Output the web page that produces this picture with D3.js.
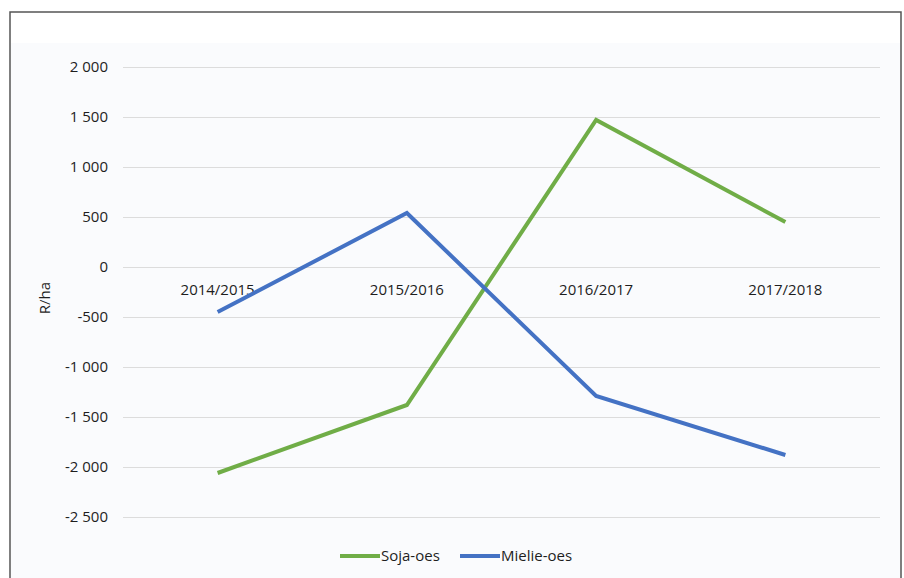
<!DOCTYPE html>
<html>
<head>
<meta charset="utf-8">
<script src="https://cdn.jsdelivr.net/npm/d3@7"></script>
<style>
  body { margin: 0; background: #fff; }
  text { font-family: "Open Sans", "Liberation Sans", sans-serif; fill: #1e1e1e; }
</style>
</head>
<body>
<div id="chart"></div>
<script>
// data
var seasons = ["2014/2015", "2015/2016", "2016/2017", "2017/2018"];
var soja = [-2060, -1380, 1470, 450];
var mielie = [-450, 540, -1290, -1880];
var yTicks = [2000, 1500, 1000, 500, 0, -500, -1000, -1500, -2000, -2500];
var seriesNames = ["Soja-oes", "Mielie-oes"];
var seriesColors = ["#70ad47", "#4472c4"];

var W = 904, H = 578;
var margin = { top: 67, right: 24, bottom: 61, left: 123 },
    width = W - margin.left - margin.right,
    height = H - margin.top - margin.bottom;

var svg = d3.select("#chart")
    .append("svg")
    .attr("width", W)
    .attr("height", H);

// plot background + frame
svg.append("rect")
    .attr("x", 11).attr("y", 43)
    .attr("width", 889).attr("height", H - 43)
    .attr("fill", "#fafbfd");
svg.append("rect")
    .attr("x", 10).attr("y", 12)
    .attr("width", 891).attr("height", H)
    .attr("fill", "none")
    .attr("stroke", "#555")
    .attr("stroke-width", 1.5);

var g = svg.append("g")
    .attr("transform", "translate(" + margin.left + "," + margin.top + ")");

var x = d3.scaleBand().domain(seasons).range([0, width]);
var y = d3.scaleLinear().domain([-2500, 2000]).range([450, 0]);

// grid lines
g.append("g")
    .call(d3.axisLeft(y).tickValues(yTicks).tickSize(-width).tickFormat(""))
    .call(function (a) { a.select(".domain").remove(); })
    .selectAll("line")
    .attr("stroke", "#dcdcdc")
    .attr("stroke-width", 1.2);

// y tick labels
var fmt = function (d) {
    var s = d3.format(",")(d).replace(/,/g, " ");
    return s.replace("−", "-");
};
g.append("g")
    .call(d3.axisLeft(y).tickValues(yTicks).tickSize(0).tickPadding(15).tickFormat(fmt))
    .call(function (a) { a.select(".domain").remove(); })
    .selectAll("text")
    .style("font-size", "15px");

// x labels sit just under the zero line
g.append("g")
    .attr("transform", "translate(0," + y(0) + ")")
    .call(d3.axisBottom(x).tickSize(0).tickPadding(17))
    .call(function (a) { a.select(".domain").remove(); })
    .selectAll("text")
    .style("font-size", "15px");

// y title
svg.append("text")
    .attr("transform", "translate(50,298) rotate(-90)")
    .attr("text-anchor", "middle")
    .style("font-size", "15px")
    .text("R/ha");

// lines
var line = d3.line()
    .x(function (d, i) { return x(seasons[i]) + x.bandwidth() / 2; })
    .y(function (d) { return y(d); });

[soja, mielie].forEach(function (s, i) {
    g.append("path")
        .datum(s)
        .attr("d", line)
        .attr("fill", "none")
        .attr("stroke", seriesColors[i])
        .attr("stroke-width", 4)
        .attr("stroke-linejoin", "miter");
});

// legend
var legendX = [340, 460];
seriesNames.forEach(function (n, i) {
    var lg = svg.append("g").attr("transform", "translate(" + legendX[i] + ",556)");
    lg.append("line")
        .attr("x1", 0).attr("x2", 40)
        .attr("stroke", seriesColors[i])
        .attr("stroke-width", 4);
    lg.append("text")
        .attr("x", 41)
        .attr("dy", "0.35em")
        .style("font-size", "15px")
        .text(n);
});
</script>
</body>
</html>
